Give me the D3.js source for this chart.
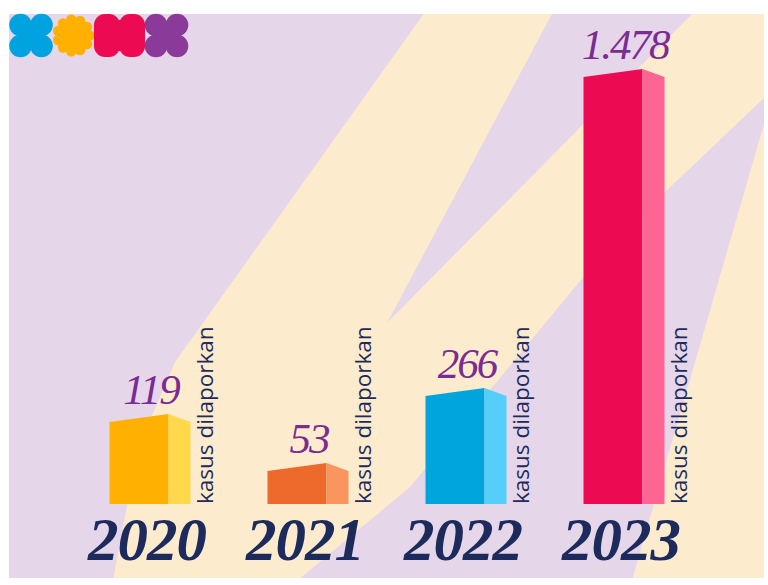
<!DOCTYPE html>
<html>
<head>
<meta charset="utf-8">
<script src="https://cdn.jsdelivr.net/npm/d3@7/dist/d3.min.js"></script>
<style>
  html, body { margin: 0; padding: 0; background: #ffffff; }
  svg { display: block; }
</style>
</head>
<body>
<svg id="chart" width="768" height="585"></svg>
<script>
// ---- data ----
const years = ["2020", "2021", "2022", "2023"];
const cases = [119, 53, 266, 1478];
const unitLabel = "kasus dilaporkan";
const frontColors = ["#FFB000", "#EE6A2C", "#00A5DE", "#EC0A52"];
const sideColors  = ["#FFD84C", "#F9955F", "#55CEFA", "#FF6592"];
const logoColors  = ["#00A3DF", "#FFB000", "#EC0A52", "#8A3A98"];

// ---- colours / layout ----
const W = 768, H = 585;
const panel = { x0: 9, y0: 14, x1: 764, y1: 578 };
const lavender = "#E6D6EA", cream = "#FDEBCD";
const purple = "#7A2C92", navy = "#1C2A5C";
const baseY = 504;
const frontW = 59, sideW = 22, tilt = 8;

const svg = d3.select("#chart");

// ---- background panel ----
svg.append("defs").append("clipPath").attr("id", "panelClip")
  .append("rect")
  .attr("x", panel.x0).attr("y", panel.y0)
  .attr("width", panel.x1 - panel.x0).attr("height", panel.y1 - panel.y0);

const bg = svg.append("g").attr("clip-path", "url(#panelClip)");
bg.append("rect")
  .attr("x", panel.x0).attr("y", panel.y0)
  .attr("width", panel.x1 - panel.x0).attr("height", panel.y1 - panel.y0)
  .attr("fill", lavender);

const poly = d3.line();
const leftEdge = [[113, 580], [130, 490], [150, 420], [175, 362], [425, 12]];
const midEdge  = [[766, 96], [665, 192], [585, 275], [410, 487], [298, 580]];
const beamA = poly(leftEdge) +
  "L553,12L387,323L694,12L766,12" +
  poly(midEdge).replace(/^M/, "L") + "Z";
bg.append("path").attr("d", beamA).attr("fill", cream);
bg.append("path")
  .attr("d", poly([[766, 117], [632, 580], [766, 580]]) + "Z")
  .attr("fill", cream);

// ---- logo ----
const logo = svg.append("g");
function xShape(cx, cy, col) {
  const g = logo.append("g").attr("fill", col);
  [[-1,-1],[1,-1],[-1,1],[1,1]].forEach(([dx, dy]) =>
    g.append("circle").attr("cx", cx + dx * 10.5).attr("cy", cy + dy * 10.5).attr("r", 11.3));
  g.append("rect").attr("x", cx - 10).attr("y", cy - 10).attr("width", 20).attr("height", 20);
}
xShape(31, 35.5, logoColors[0]);
(function () {
  const g = logo.append("g").attr("fill", logoColors[1]);
  const cx = 73.5, cy = 35.5;
  g.append("circle").attr("cx", cx).attr("cy", cy).attr("r", 18);
  d3.range(11).forEach(i => {
    const a = i / 11 * 2 * Math.PI;
    g.append("circle").attr("cx", cx + 16 * Math.cos(a)).attr("cy", cy + 16 * Math.sin(a)).attr("r", 5.2);
  });
})();
(function () {
  const g = logo.append("g").attr("fill", logoColors[2]);
  g.append("rect").attr("x", 94).attr("y", 14).attr("width", 26).attr("height", 43).attr("rx", 11);
  g.append("rect").attr("x", 119).attr("y", 14).attr("width", 26).attr("height", 43).attr("rx", 11);
  g.append("rect").attr("x", 105).attr("y", 20).attr("width", 29).attr("height", 31);
})();
xShape(166.5, 35.5, logoColors[3]);

// ---- scales ----
const x = d3.scalePoint().domain(years).range([150, 624]);
const sorted = cases.slice().sort((a, b) => a - b);
// infographic heights are stylised, not proportional: piecewise scale
const y = d3.scaleLinear().domain([0, ...sorted]).range([baseY, 463, 414, 388, 69]);

const idFmt = d3.formatLocale({ decimal: ",", thousands: ".", grouping: [3], currency: ["Rp", ""] }).format(",");

const data = years.map((yr, i) => ({ yr, v: cases[i], front: frontColors[i], side: sideColors[i] }));

const bars = svg.append("g").selectAll("g").data(data).join("g");

bars.append("path")
  .attr("fill", d => d.front)
  .attr("d", d => {
    const x0 = x(d.yr) - (frontW + sideW) / 2, top = y(d.v);
    return d3.line()([[x0, baseY], [x0, top + tilt], [x0 + frontW, top], [x0 + frontW, baseY]]) + "Z";
  });
bars.append("path")
  .attr("fill", d => d.side)
  .attr("d", d => {
    const x0 = x(d.yr) - (frontW + sideW) / 2 + frontW, top = y(d.v);
    return d3.line()([[x0, baseY], [x0, top], [x0 + sideW, top + tilt], [x0 + sideW, baseY]]) + "Z";
  });

// value labels
bars.append("text")
  .attr("x", d => x(d.yr) + 1)
  .attr("y", d => y(d.v) - 10)
  .attr("text-anchor", "middle")
  .attr("font-family", "'Liberation Serif', 'DejaVu Serif', serif")
  .attr("font-style", "italic")
  .attr("font-size", 43)
  .attr("letter-spacing", -2)
  .attr("fill", purple)
  .text(d => idFmt(d.v));

// year labels
bars.append("text")
  .attr("x", d => x(d.yr) - 3)
  .attr("y", 560)
  .attr("text-anchor", "middle")
  .attr("font-family", "'Liberation Serif', 'DejaVu Serif', serif")
  .attr("font-style", "italic")
  .attr("font-weight", "bold")
  .attr("font-size", 61)
  .attr("letter-spacing", -1)
  .attr("fill", navy)
  .text(d => d.yr);

// unit labels (rotated)
bars.append("text")
  .attr("transform", d => `translate(${x(d.yr) + (frontW + sideW) / 2 + 22},${baseY}) rotate(-90)`)
  .attr("text-anchor", "start")
  .attr("font-family", "'Open Sans', 'Liberation Sans', sans-serif")
  .attr("font-size", 22.5)
  .attr("fill", navy)
  .text(unitLabel);
</script>
</body>
</html>
